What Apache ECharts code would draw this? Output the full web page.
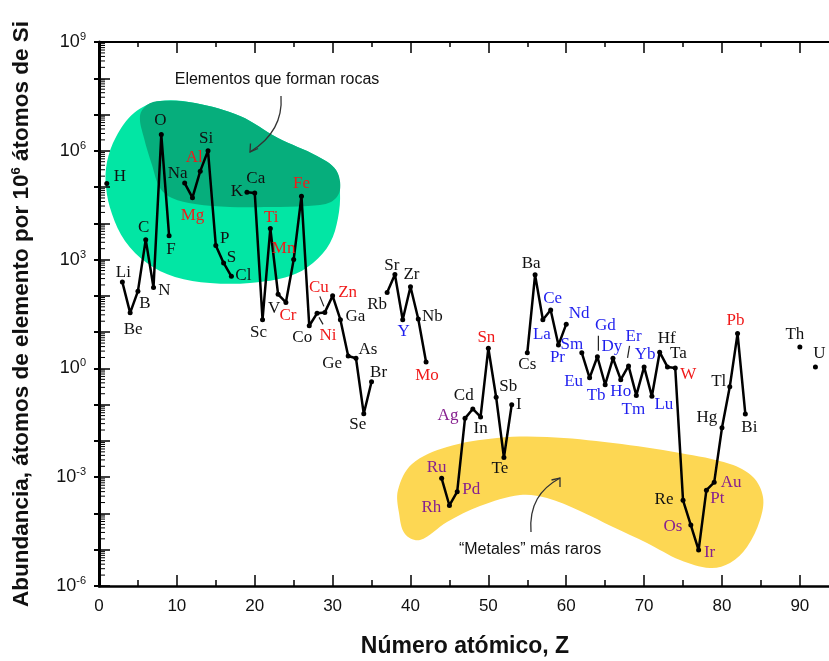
<!DOCTYPE html>
<html>
<head>
<meta charset="utf-8">
<script src="https://cdn.jsdelivr.net/npm/echarts@6/dist/echarts.min.js"></script>
<style>
html,body{margin:0;padding:0;background:#fff;}
#chart{width:829px;height:661px;}
</style>
</head>
<body>
<div id="chart"></div>
<script>
// ---------- data ----------
const atomicNumbers = [1,3,4,5,6,7,8,9,11,12,13,14,15,16,17,19,20,21,22,23,24,25,26,27,28,29,30,31,32,33,34,35,37,38,39,40,41,42,44,45,46,47,48,49,50,51,52,53,55,56,57,58,59,60,62,63,64,65,66,67,68,69,70,71,72,73,74,75,76,77,78,79,80,81,82,83,90,92];
const symbols = ['H','Li','Be','B','C','N','O','F','Na','Mg','Al','Si','P','S','Cl','K','Ca','Sc','Ti','V','Cr','Mn','Fe','Co','Ni','Cu','Zn','Ga','Ge','As','Se','Br','Rb','Sr','Y','Zr','Nb','Mo','Ru','Rh','Pd','Ag','Cd','In','Sn','Sb','Te','I','Cs','Ba','La','Ce','Pr','Nd','Sm','Eu','Gd','Tb','Dy','Ho','Er','Tm','Yb','Lu','Hf','Ta','W','Re','Os','Ir','Pt','Au','Hg','Tl','Pb','Bi','Th','U'];
const abundance = [1.26e5,240,34,135,3550,170,2.8e6,4570,1.29e5,5.1e4,2.75e5,1.0e6,2450,810,347,7.2e4,6.9e4,22,7200,110,66,1000,5.6e4,15,33,35,100,22,2.2,1.9,0.056,0.43,123,390,22,178,23,1.5,9.3e-4,1.66e-4,4.0e-4,0.042,0.076,0.046,3.6,0.16,3.5e-3,0.1,2.7,380,22,41,4.4,16.6,2.7,0.55,2.1,0.355,1.9,0.49,1.17,0.18,1.1,0.17,2.8,1.1,1.02,2.3e-4,4.8e-5,9.8e-6,4.4e-4,7.2e-4,0.023,0.31,9.1,0.055,3.9,1.1];
const xTickLabels = ['0','10','20','30','40','50','60','70','80','90'];
const yTickExponents = [-6,-3,0,3,6,9];

// label groups (colour classes)
const redElements = ['Mg','Al','Ti','Mn','Fe','Cr','Ni','Cu','Zn','Mo','Sn','W','Pb'];
const blueElements = ['Y','La','Ce','Pr','Nd','Sm','Eu','Gd','Tb','Dy','Ho','Er','Tm','Yb','Lu'];
const purpleElements = ['Ru','Rh','Pd','Ag','Os','Ir','Pt','Au'];

// ---------- layout / style (kept separate from data) ----------
const labelOffset = {H:[13,-7],Li:[1,-10],Be:[3,17],B:[7,12],C:[-2,-12],N:[11,3],O:[-1,-14],F:[2,14],
Na:[-7,-10],Mg:[0,18],Al:[-6,-14],Si:[-2,-12],P:[9,-7],S:[8,-5],Cl:[12,-1],K:[-10,-1],Ca:[1,-14],
Sc:[-4,13],Ti:[1,-11],V:[-4,14],Cr:[2,13],Mn:[-10,-11],Fe:[0,-13],Co:[-7,12],Ni:[11,22],Cu:[-6,-25],
Zn:[15,-3],Ga:[15,-3],Ge:[-16,8],As:[12,-9],Se:[-6,11],Br:[7,-9],Rb:[-10,12],Sr:[-3,-9],Y:[1,12],
Zr:[1,-12],Nb:[14,-2],Mo:[1,14],Ru:[-5,-11],Rh:[-18,2],Pd:[14,-2],Ag:[-17,-3],Cd:[-9,-13],In:[0,12],
Sn:[-2,-11],Sb:[12,-11],Te:[-4,11],I:[7,0],Cs:[0,12],Ba:[-4,-11],La:[-1,15],Ce:[2,-11],Pr:[-1,12],
Nd:[13,-11],Sm:[-10,-8],Eu:[-16,4],Gd:[8,-31],Tb:[-9,11],Dy:[-1,-12],Ho:[0,12],Er:[5,-29],Tm:[-3,14],
Yb:[1,-12],Lu:[12,8],Hf:[7,-14],Ta:[11,-13],W:[13,6],Re:[-19,-1],Os:[-18,2],Ir:[11,2],Pt:[11,8],
Au:[17,0],Hg:[-15,-10],Tl:[-11,-5],Pb:[-2,-13],Bi:[4,13],Th:[-5,-12],U:[4,-13]};
// leader lines: [dx1,dy1,dx2,dy2] relative to point
const leaderLines = {Cu:[-5,-16,-1,-6], Ni:[2,4,6,11], Gd:[1,-21,1,-6], Er:[1,-20,-1,-8]};

const colorOf = s => redElements.includes(s) ? '#f01a1a' : blueElements.includes(s) ? '#1f1fee' : purpleElements.includes(s) ? '#86208f' : '#111';

// build line data, breaking the line where elements are missing
const lineData = [];
for (let i = 0; i < atomicNumbers.length; i++) {
  if (i > 0 && atomicNumbers[i] - atomicNumbers[i-1] > 1) lineData.push([atomicNumbers[i-1] + 1, '-']);
  const s = symbols[i];
  lineData.push({
    value: [atomicNumbers[i], abundance[i]],
    name: s,
    label: { color: colorOf(s) }
  });
}
const leaderData = symbols.map((s,i)=>leaderLines[s] ? [atomicNumbers[i], abundance[i], ...leaderLines[s]] : null).filter(Boolean);

// log minor ticks (axis decoration)
const minorTickValues = [];
for (let k = -6; k < 9; k++) for (let m = 2; m <= 9; m++) minorTickValues.push([0, m * Math.pow(10, k)]);

const supLabel = v => {
  const e = Math.round(Math.log10(v));
  return yTickExponents.includes(e) ? '{b|10}{s|' + e + '}' : '';
};

const chart = echarts.init(document.getElementById('chart'), null, {renderer:'canvas'});
const greenOuter = [[160,101],[195,103],[240,116],[278,138],[317,156],[336,170],[340,192],[338,218],[330,243],[313,263],[290,276],[250,283],[210,283],[175,277],[147,263],[125,241],[112,214],[106,187],[107,162],[116,137],[134,113]];
const greenInner = [[160,101],[195,103],[240,116],[278,138],[317,156],[336,170],[340,190],[331,202],[308,206],[270,207],[230,207],[195,204],[172,198],[160,188],[152,165],[144,138],[140,116],[147,105]];
const yellow = [[398,490],[412,464],[447,447],[497,438],[547,437],[613,443],[680,453],[730,464],[753,477],[763,497],[760,520],[747,547],[730,563],[710,568],[680,560],[647,543],[613,527],[580,511],[547,498],[520,495],[480,506],[447,522],[420,540],[405,534],[399,513]];

const FONT = '"Liberation Sans",Arial,sans-serif';

chart.setOption({
  animation: false,
  backgroundColor: '#fff',
  grid: { left: 99, right: -2, top: 42, bottom: 75, containLabel: false, outerBoundsMode: 'none' },
  xAxis: [{
    type: 'value', position: 'bottom', min: 0, max: 94, interval: 10,
    axisLine: { lineStyle: { color: '#000', width: 2.5 } },
    axisTick: { inside: true, length: 11, lineStyle: { color: '#000', width: 1.5 } },
    minorTick: { show: true, splitNumber: 2, length: 6, lineStyle: { color: '#000', width: 1.5 } },
    splitLine: { show: false },
    axisLabel: { margin: 12, fontSize: 17, color: '#111', fontFamily: FONT, showMaxLabel: false,
      formatter: v => xTickLabels.includes(String(v)) ? String(v) : '' },
    name: 'Número atómico, Z', nameLocation: 'middle', nameGap: 49,
    nameTextStyle: { fontSize: 23, fontWeight: 'bold', color: '#111', fontFamily: FONT }
  },{
    type: 'value', position: 'top', min: 0, max: 94, interval: 10,
    axisLine: { lineStyle: { color: '#000', width: 2 } },
    axisTick: { inside: true, length: 11, lineStyle: { color: '#000', width: 1.5 } },
    minorTick: { show: true, splitNumber: 2, length: 5, lineStyle: { color: '#000', width: 1.5 } },
    splitLine: { show: false }, axisLabel: { show: false }
  }],
  yAxis: [{
    type: 'log', logBase: 10, min: 1e-6, max: 1e9, interval: 1, position: 'left',
    axisLine: { lineStyle: { color: '#000', width: 3 } },
    axisTick: { inside: true, length: 11, lineStyle: { color: '#000', width: 1.5 } },
    splitLine: { show: false },
    axisLabel: { margin: 13, formatter: supLabel,
      rich: { b: { fontSize: 18, color: '#111', fontFamily: FONT },
              s: { fontSize: 11, color: '#111', fontFamily: FONT, padding: [0,0,10,0] } } },
    name: '{a|Abundancia, átomos de elemento por 10}{s|6}{a| átomos de Si}',
    nameLocation: 'middle', nameGap: 65,
    nameTextStyle: { rich: {
      a: { fontSize: 22.5, fontWeight: 'bold', color: '#111', fontFamily: FONT },
      s: { fontSize: 13, fontWeight: 'bold', color: '#111', fontFamily: FONT, padding: [0,0,11,0] } } }
  },{
    type: 'log', logBase: 10, min: 1e-6, max: 1e9, interval: 1, position: 'right',
    axisLine: { lineStyle: { color: '#000', width: 2 } },
    axisTick: { inside: true, length: 5, lineStyle: { color: '#000', width: 2 } },
    splitLine: { show: false }, axisLabel: { show: false }
  }],
  graphic: [
    { type: 'polygon', z: -10, shape: { points: greenOuter, smooth: 0.35 }, style: { fill: '#02e6a4' }, silent: true },
    { type: 'polygon', z: -9, shape: { points: greenInner, smooth: 0.35 }, style: { fill: '#06ae7c' }, silent: true },
    { type: 'polygon', z: -10, shape: { points: yellow, smooth: 0.35 }, style: { fill: '#fdd753' }, silent: true },
    { type: 'text', x: 277, y: 80, style: { text: 'Elementos que forman rocas', fill: '#111', font: '16px "Liberation Sans", Arial, sans-serif', textAlign: 'center', textVerticalAlign: 'middle' } },
    { type: 'bezierCurve', shape: { x1: 281, y1: 96, cpx1: 283, cpy1: 124, cpx2: 268, cpy2: 141, x2: 250, y2: 152 }, style: { stroke: '#333', lineWidth: 1.3, fill: null } },
    { type: 'polyline', shape: { points: [[250.5,143.5],[250,152],[258,148.5]] }, style: { stroke: '#333', lineWidth: 1.3, fill: null } },
    { type: 'text', x: 530, y: 550, style: { text: '“Metales” más raros', fill: '#111', font: '16px "Liberation Sans", Arial, sans-serif', textAlign: 'center', textVerticalAlign: 'middle' } },
    { type: 'bezierCurve', shape: { x1: 531, y1: 532, cpx1: 529, cpy1: 505, cpx2: 540, cpy2: 489, x2: 560, y2: 478 }, style: { stroke: '#333', lineWidth: 1.3, fill: null } },
    { type: 'polyline', shape: { points: [[551.5,480],[560,478],[560,487]] }, style: { stroke: '#333', lineWidth: 1.3, fill: null } }
  ],
  series: [{
    type: 'custom', name: 'minorTicks', silent: true, z: 3,
    data: minorTickValues, encode: { x: 0, y: 1 },
    renderItem: (params, api) => {
      const p = api.coord([0, api.value(1)]);
      return { type: 'line', shape: { x1: p[0], y1: p[1], x2: p[0] + 6, y2: p[1] }, style: { stroke: '#000', lineWidth: 1 } };
    }
  },{
    type: 'custom', name: 'leaders', silent: true, z: 4,
    data: leaderData, encode: { x: 0, y: 1 },
    renderItem: (params, api) => {
      const p = api.coord([api.value(0), api.value(1)]);
      return { type: 'line', shape: { x1: p[0] + api.value(2), y1: p[1] + api.value(3), x2: p[0] + api.value(4), y2: p[1] + api.value(5) }, style: { stroke: '#222', lineWidth: 1.2 } };
    }
  },{
    type: 'line', name: 'abundance', z: 5,
    data: lineData, connectNulls: false,
    symbol: 'circle', symbolSize: 5, showAllSymbol: true,
    itemStyle: { color: '#000' },
    lineStyle: { color: '#000', width: 2.5 },
    label: { show: true, position: 'inside', formatter: '{b}', fontSize: 17,
      fontFamily: '"Liberation Serif","Times New Roman",serif', align: 'center', verticalAlign: 'middle' },
    labelLayout: params => {
      const item = lineData[params.dataIndex];
      const off = (item && item.name && labelOffset[item.name]) || [0, -12];
      return { dx: off[0], dy: off[1], hideOverlap: false };
    },
    emphasis: { disabled: true }
  }]
});
</script>
</body>
</html>
